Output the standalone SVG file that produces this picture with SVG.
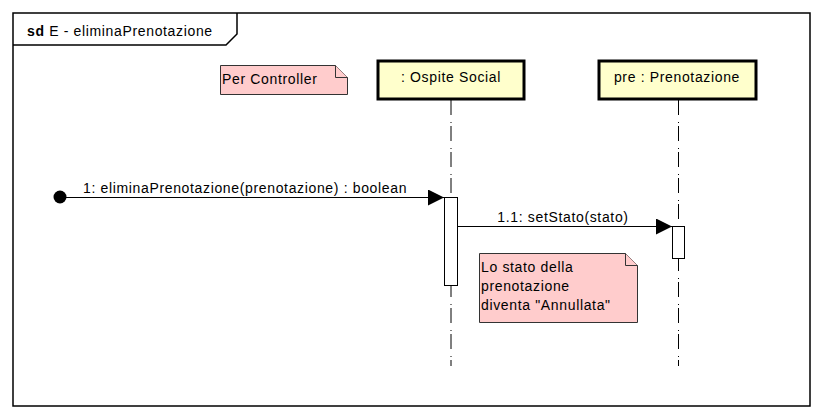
<svg xmlns="http://www.w3.org/2000/svg" width="824" height="420" viewBox="0 0 824 420">
<defs>
<style>
text{font-family:"Liberation Sans",Arial,sans-serif;font-size:14px;letter-spacing:0.65px;fill:#000}
.frame{fill:none;stroke:#000;stroke-width:1.5}
.note{fill:#FFCCCC;stroke:#333;stroke-width:1}
.lbox{fill:#FFFFCC;stroke:#000;stroke-width:3}
.life{stroke:#000;stroke-width:1;stroke-dasharray:15 7 1 3;fill:none}
.act{fill:#fff;stroke:#000;stroke-width:1}
.msg{stroke:#000;stroke-width:1;fill:none}
</style>
<marker id="arr" viewBox="0 0 16 16" markerWidth="16" markerHeight="16" refX="16" refY="8" orient="auto" markerUnits="userSpaceOnUse">
<path d="M0,0 L16,8 L0,16 Z" fill="#000"/>
</marker>
</defs>
<rect width="824" height="420" fill="#fff"/>
<g id="frame">
<rect class="frame" x="13" y="13" width="797" height="393"/>
<path class="frame" d="M13,45 L226,45 L237,34 L237,13"/>
<text x="27" y="36"><tspan font-weight="bold">sd</tspan> E - eliminaPrenotazione</text>
</g>
<g id="note-controller">
<path class="note" d="M220.5,65.5 L335.5,65.5 L347.5,77.5 L347.5,94.5 L220.5,94.5 Z"/>
<path class="note" d="M335.5,65.5 L335.5,77.5 L347.5,77.5" fill="none"/>
<text x="222" y="84">Per Controller</text>
</g>
<g id="ospite">
<line class="life" x1="451" y1="100" x2="451" y2="366"/>
<rect class="lbox" x="378" y="61" width="146" height="38"/>
<text x="451" y="82" text-anchor="middle">: Ospite Social</text>
<rect class="act" x="444.5" y="197.5" width="13" height="88"/>
</g>
<g id="prenotazione">
<line class="life" x1="678.5" y1="100" x2="678.5" y2="366"/>
<rect class="lbox" x="599" y="61" width="157" height="38"/>
<text x="677" y="82" text-anchor="middle">pre : Prenotazione</text>
<rect class="act" x="672.5" y="226.5" width="12" height="32"/>
</g>
<g id="note-stato">
<path class="note" d="M479.5,253.5 L625.5,253.5 L637.5,265.5 L637.5,322.5 L479.5,322.5 Z"/>
<path class="note" d="M625.5,253.5 L625.5,265.5 L637.5,265.5" fill="none"/>
<text x="481" y="272">Lo stato della</text>
<text x="481" y="291">prenotazione</text>
<text x="481" y="310">diventa "Annullata"</text>
</g>
<g id="connectors">
<circle cx="60" cy="197" r="6.5" fill="#000"/>
<line class="msg" x1="60" y1="197.5" x2="444" y2="197.5" marker-end="url(#arr)"/>
<text x="83" y="193">1: eliminaPrenotazione(prenotazione) : boolean</text>
<line class="msg" x1="458" y1="226.5" x2="672" y2="226.5" marker-end="url(#arr)"/>
<text x="563" y="222" text-anchor="middle">1.1: setStato(stato)</text>
</g>
</svg>
